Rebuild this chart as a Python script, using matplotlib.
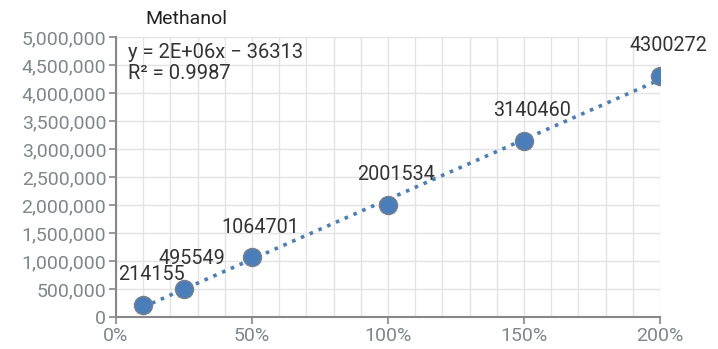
import numpy as np
import matplotlib
matplotlib.use("Agg")
import matplotlib.pyplot as plt
from matplotlib import ticker

plt.rcParams["font.family"] = ["Roboto", "DejaVu Sans"]

# 浓度比例 (%) 与峰面积
conc_pct = [10, 25, 50, 100, 150, 200]
peak_area = [214155, 495549, 1064701, 2001534, 3140460, 4300272]
title = "Methanol"
eq_text = "y = 2E+06x \u2212 36313\nR\u00b2 = 0.9987"

BLUE = "#4a7ebb"
GRID = "#e3e3e3"
AXIS = "#888888"
TICK_TXT = "#80868b"
LABEL_TXT = "#333333"

fig = plt.figure(figsize=(7.18, 3.49), dpi=100)
ax = fig.add_axes([0.1616, 0.0917, 0.7576, 0.8023])

x = np.array(conc_pct) / 100.0
y = np.array(peak_area)

# 线性趋势线
k, b = np.polyfit(x, y, 1)
xs = np.linspace(x.min(), x.max(), 50)
ax.plot(xs * 100, k * xs + b, ":", color=BLUE, linewidth=2.6, zorder=2)

ax.plot(conc_pct, peak_area, "o", color=BLUE, markersize=13,
        markeredgecolor="#7a7f88", markeredgewidth=1.0, zorder=3)

for cx, cy in zip(conc_pct, peak_area):
    ax.annotate(str(cy), (cx, cy), xytext=(6, 15), textcoords="offset points",
                ha="center", va="bottom", fontsize=14.2, color=LABEL_TXT)

ax.set_xlim(0, 200)
ax.set_ylim(0, 5000000)
ax.xaxis.set_major_locator(ticker.MultipleLocator(50))
ax.xaxis.set_minor_locator(ticker.MultipleLocator(10))
ax.yaxis.set_major_locator(ticker.MultipleLocator(500000))
ax.xaxis.set_major_formatter(ticker.FuncFormatter(lambda v, p: f"{v:.0f}%"))
ax.yaxis.set_major_formatter(ticker.FuncFormatter(lambda v, p: f"{v:,.0f}"))

ax.grid(True, which="both", axis="x", color=GRID, linewidth=1)
ax.grid(True, which="major", axis="y", color=GRID, linewidth=1)
ax.set_axisbelow(True)

for side in ("top", "right"):
    ax.spines[side].set_visible(False)
for side in ("left", "bottom"):
    ax.spines[side].set_color(AXIS)
    ax.spines[side].set_linewidth(1.5)

ax.tick_params(axis="both", which="major", length=5, width=1.2, color=AXIS,
               labelsize=14, labelcolor=TICK_TXT, pad=2)
ax.tick_params(axis="x", which="minor", length=0)

ax.text(0.022, 0.98, eq_text, transform=ax.transAxes, ha="left", va="top",
        fontsize=14.5, color=LABEL_TXT, linespacing=1.18)

fig.text(186 / 718, 1 - 19 / 349, title, ha="center", va="center",
         fontsize=14, color="#222222")

fig.savefig("out.png", dpi=100)
